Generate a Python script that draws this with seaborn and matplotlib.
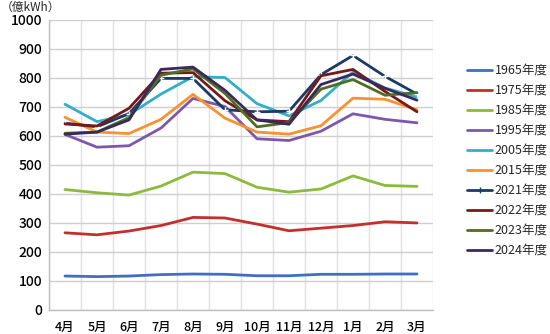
import matplotlib
matplotlib.use("Agg")
import matplotlib.pyplot as plt
import seaborn as sns
import pandas as pd
import numpy as np

months = ["4月", "5月", "6月", "7月", "8月", "9月", "10月", "11月", "12月", "1月", "2月", "3月"]

y1965 = [116, 114, 116, 121, 123, 122, 117, 117, 122, 122, 123, 123]
y1975 = [265, 258, 271, 290, 318, 316, 295, 272, 281, 290, 303, 299]
y1985 = [414, 403, 395, 426, 474, 469, 422, 405, 416, 461, 428, 425]
y1995 = [604, 560, 565, 626, 728, 700, 589, 583, 615, 675, 656, 644]
y2005 = [708, 648, 672, 743, 803, 800, 710, 668, 721, 819, 764, 733]
y2015 = [663, 612, 607, 656, 742, 660, 612, 605, 634, 729, 725, 689]
y2021 = [643, 630, 676, 797, 797, 689, 682, 684, 810, 876, 804, 743]
y2022 = [640, 633, 694, 815, 817, 720, 654, 648, 806, 828, 752, 682]
y2023 = [608, 612, 662, 808, 830, 745, 630, 645, 760, 793, 739, 748]
y2024 = [605, 612, 654, 828, 836, 756, 654, 639, 776, 812, 763, 722]

series_names = ["1965年度", "1975年度", "1985年度", "1995年度", "2005年度",
                "2015年度", "2021年度", "2022年度", "2023年度", "2024年度"]
series_values = [y1965, y1975, y1985, y1995, y2005, y2015, y2021, y2022, y2023, y2024]
colors = ["#3F6FBF", "#C3302C", "#8DBA3C", "#7E57AD", "#32AECB",
          "#F7922F", "#1B3A66", "#771919", "#4F6E24", "#3A2A5C"]

rows = []
for name, vals in zip(series_names, series_values):
    for i, v in enumerate(vals):
        rows.append({"series": name, "idx": i, "value": v})
df = pd.DataFrame(rows)

sns.set_theme(style="white")
plt.rcParams['font.family'] = ['Noto Sans CJK JP', 'DejaVu Sans']

fig = plt.figure(figsize=(5.5, 3.34), dpi=100)
ax = fig.add_axes([49/550, 1 - 309.7/334, (433-49)/550, (309.7-19.5)/334])

sns.lineplot(data=df, x="idx", y="value", hue="series", hue_order=series_names,
             palette=colors, linewidth=2.0, sort=False, ax=ax, legend=False)

# marker for 2021
line2021 = ax.lines[6]
line2021.set_marker("+")
line2021.set_markersize(5)
line2021.set_markeredgewidth(1.0)

ax.set_xlim(-0.5, 11.5)
ax.set_ylim(0, 1000)
ax.set_yticks(np.arange(0, 1001, 100))
ax.set_xticks(np.arange(12))
ax.set_xticklabels(months)
ax.set_xticks(np.arange(-0.5, 12, 1), minor=True)
ax.set_xlabel("")
ax.set_ylabel("")
ax.tick_params(axis="x", which="major", length=0, labelsize=9, pad=8, colors="#000000")
ax.tick_params(axis="x", which="minor", length=4, color="#a6a6a6", width=0.8, direction="out")
ax.tick_params(axis="y", length=0, labelsize=10, pad=5, colors="#000000")
for lab in ax.get_xticklabels() + ax.get_yticklabels():
    lab.set_fontweight("medium")

ax.grid(True, axis="y", color="#cfcfcf", linewidth=1.0)
ax.grid(True, axis="x", which="minor", color="#e0e0e0", linewidth=1.0)
ax.grid(False, axis="x", which="major")
ax.set_axisbelow(True)
for s in ["top", "right"]:
    ax.spines[s].set_visible(False)
ax.spines["left"].set_color("#bfbfbf")
ax.spines["bottom"].set_color("#bfbfbf")
ax.spines["left"].set_linewidth(1.0)
ax.spines["bottom"].set_linewidth(1.0)

fig.text(0.5/550, 1 - 1/334, "（億kWh）", fontsize=8.5, va="top", ha="left")

from matplotlib.lines import Line2D
handles = []
for name, c in zip(series_names, colors):
    if name == "2021年度":
        h = Line2D([0], [0], color=c, linewidth=2.0, marker="+", markersize=5, markeredgewidth=1.0)
    else:
        h = Line2D([0], [0], color=c, linewidth=2.0)
    handles.append(h)
fig.legend(handles, series_names, loc="upper left", bbox_to_anchor=(467/550, 1 - 64/334),
           frameon=False, fontsize=9, handlelength=2.0, handletextpad=0.2,
           labelspacing=0.56, borderaxespad=0, borderpad=0)

fig.savefig("out.png", dpi=100)
